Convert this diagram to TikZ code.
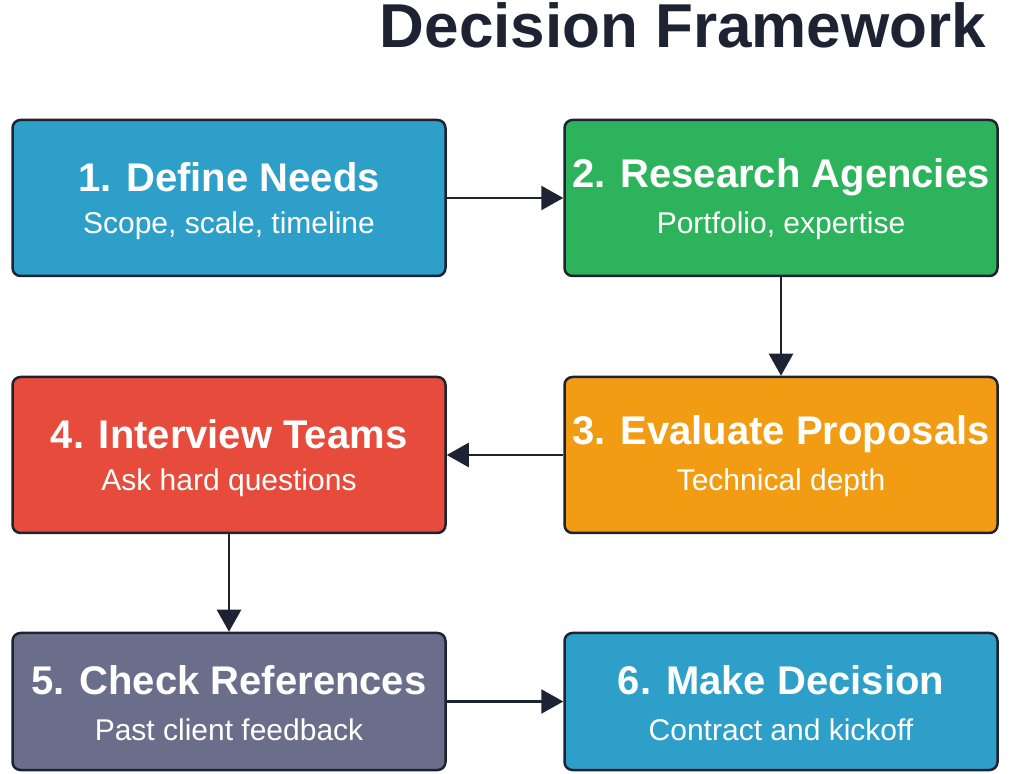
\documentclass[tikz,border=0pt]{standalone}
\usepackage{fontspec}
\setmainfont{Liberation Sans}
\usetikzlibrary{arrows.meta,calc}
\definecolor{cblue}{HTML}{2E9FC8}
\definecolor{cgreen}{HTML}{2DB35B}
\definecolor{cred}{HTML}{E64B3C}
\definecolor{corange}{HTML}{F29C13}
\definecolor{cgray}{HTML}{6B6E8A}
\definecolor{cdark}{HTML}{1E2333}
\tikzset{
  box/.style={draw=cdark, line width=2.5pt, rounded corners=8pt, minimum width=433pt, minimum height=156pt, inner sep=0pt},
  ttl/.style={text=white, font=\fontsize{40}{44}\selectfont\bfseries},
  sub/.style={text=white, font=\fontsize{30}{34}\selectfont},
  arr/.style={-{Triangle[length=22pt,width=24pt]}, line width=2.5pt, draw=cdark},
}
\newcommand{\boxtext}[2]{%
  \node[ttl] at ($(path picture bounding box.center)+(0,21)$) {#1};
  \node[sub] at ($(path picture bounding box.center)+(0,-28)$) {#2};}
\begin{document}
\begin{tikzpicture}[x=1pt,y=1pt]
\useasboundingbox (0,0) rectangle (1024,773);
\fill[white] (0,0) rectangle (1024,773);
\node[text=cdark, font=\fontsize{62}{66}\selectfont\bfseries] (title) at (683,748) {Decision Framework};
\node[box, fill=cblue, path picture={\boxtext{1. Define Needs}{Scope, scale, timeline}}] (a) at (229,575) {};
\node[box, fill=cgreen, path picture={\boxtext{2. Research Agencies}{Portfolio, expertise}}] (b) at (781,575) {};
\node[box, fill=cred, path picture={\boxtext{4. Interview Teams}{Ask hard questions}}] (c) at (229,318) {};
\node[box, fill=corange, path picture={\boxtext{3. Evaluate Proposals}{Technical depth}}] (d) at (781,318) {};
\node[box, fill=cgray, minimum height=137pt, path picture={\boxtext{5. Check References}{Past client feedback}}] (e) at (229,71.5) {};
\node[box, fill=cblue, minimum height=137pt, path picture={\boxtext{6. Make Decision}{Contract and kickoff}}] (f) at (781,71.5) {};
\draw[arr] (a.east) -- (b.west);
\draw[arr] (b.south) -- (d.north);
\draw[arr] (d.west) -- (c.east);
\draw[arr] (c.south) -- (e.north);
\draw[arr] (e.east) -- (f.west);
\end{tikzpicture}
\end{document}
